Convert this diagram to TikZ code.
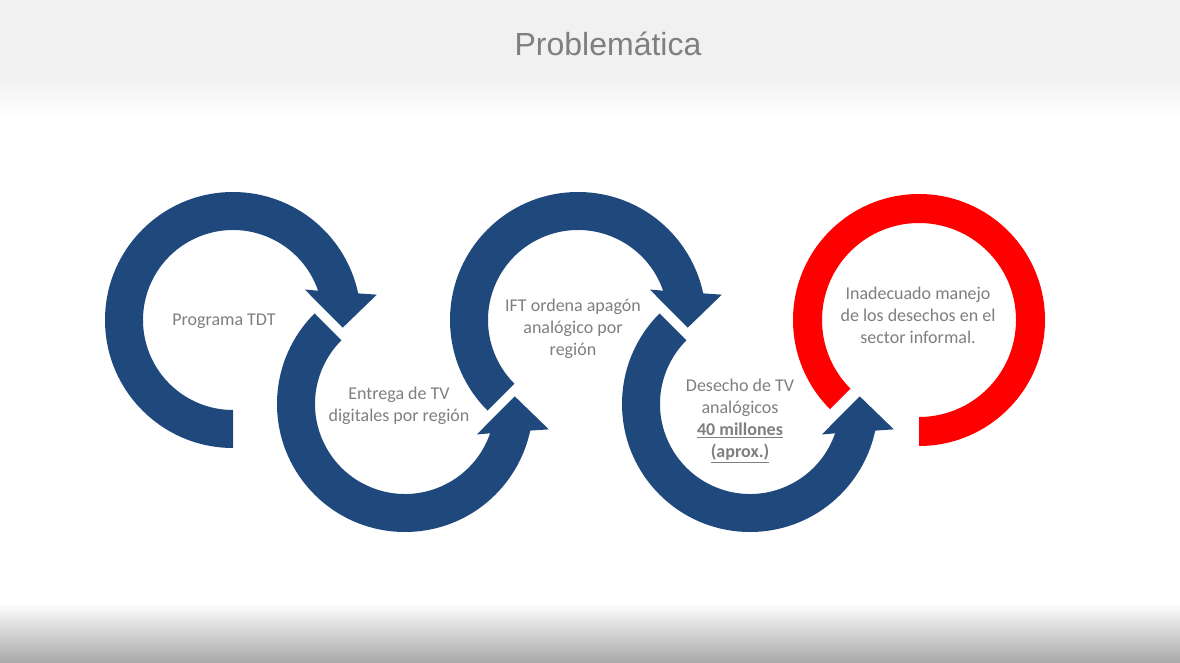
\documentclass[tikz,border=0pt]{standalone}
\usepackage{fontspec}
\setmainfont{Carlito}
\newfontfamily\titlefont{Liberation Sans}
\usepackage{tikz}

\definecolor{navy}{HTML}{1F497D}
\definecolor{txtgray}{HTML}{7F7F7F}
\definecolor{hdrgray}{HTML}{F1F1F1}
\definecolor{ftrgray}{HTML}{A9A9A9}

\begin{document}
\begin{tikzpicture}[x=0.75pt, y=0.75pt,
        lbl/.style={text=txtgray, align=center, inner sep=0pt, font=\fontsize{13.5}{16.5}\selectfont}]
        % Slide background with header and footer bands
        \fill[white] (0,0) rectangle (1180,662);
        \fill[hdrgray] (0,585) rectangle (1180,662);
        \shade[top color=hdrgray, bottom color=white] (0,544) rectangle (1180,585);
        \shade[top color=white, bottom color=ftrgray] (0,0) rectangle (1180,59);
        \useasboundingbox (0,0) rectangle (1180,662);
        % Title
        \node[text=txtgray, anchor=base, font=\titlefont\fontsize{24}{28}\selectfont] (title) at (608,606) {Problemática};
        % Clockwise arrows, upper row
        \foreach \cx/\st in {233/270, 578/225}
            \fill[navy, shift={(\cx,342)}] (\st:128) arc[start angle=\st, end angle=12, radius=128]
                -- (10:146) -- (-4:110) -- (23:78) -- (19:90) arc[start angle=19, end angle=\st, radius=90] -- cycle;
        % Counter-clockwise arrows, lower row
        \foreach \cx in {405, 750}
            \fill[navy, shift={(\cx,258)}] (135:128) arc[start angle=135, end angle=348, radius=128]
                -- (-10:146) -- (4:110) -- (-23:78) -- (-19:90) arc[start angle=341, end angle=135, radius=90] -- cycle;
        % Red ring, no arrow head
        \fill[red, shift={(919,342)}] (270:126) arc[start angle=270, end angle=585, radius=126]
            -- (225:97) arc[start angle=225, end angle=-90, radius=97] -- cycle;
        % Labels inside the rings
        \node[lbl] (tdt) at (224,341) {Programa TDT};
        \node[lbl] (entrega) at (399,256) {Entrega de TV\\digitales por región};
        \node[lbl] (ift) at (573,333) {IFT ordena apagón\\analógico por\\región};
        \node[lbl] (desecho) at (740,241) {Desecho de TV\\analógicos\\\textbf{\underline{40 millones}}\\\textbf{\underline{(aprox.)}}};
        \node[lbl] (manejo) at (918,347) {Inadecuado manejo\\de los desechos en el\\sector informal.};
\end{tikzpicture}
\end{document}
